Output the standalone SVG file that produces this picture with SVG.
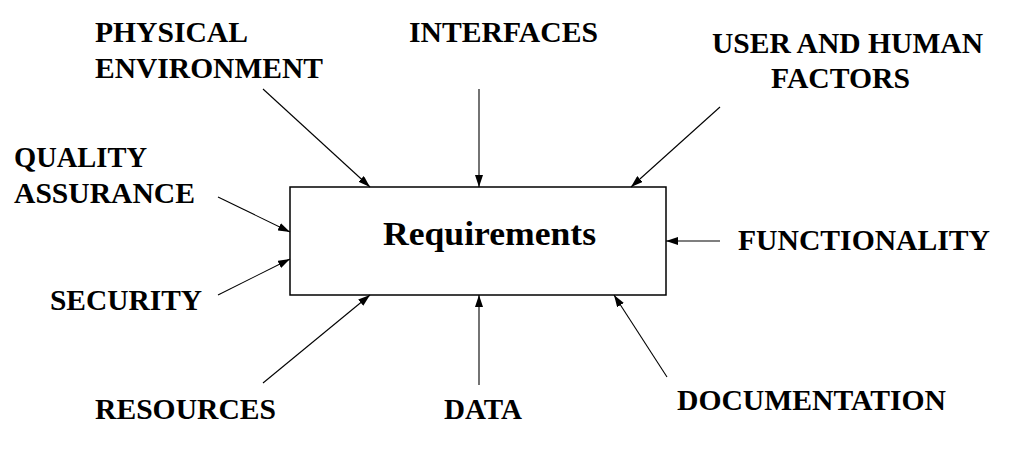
<svg xmlns="http://www.w3.org/2000/svg" width="1015" height="449" viewBox="0 0 1015 449">
<style>
.lbl{font-weight:700;font-size:29px;fill:#000}
.title{font-weight:700;font-size:34px;fill:#000}
.box{fill:#fff;stroke:#000;stroke-width:1.5}
.conn{stroke:#000;stroke-width:1.1;fill:none;marker-end:url(#ah)}
</style>
<defs>
<marker id="ah" viewBox="0 0 12 8" refX="12" refY="4" markerWidth="12" markerHeight="8" markerUnits="userSpaceOnUse" orient="auto">
<path d="M0,0 L12,4 L0,8 Z" fill="#000"/>
</marker>
</defs>
<rect width="1015" height="449" fill="#fff"/>
<g font-family="Liberation Serif, DejaVu Serif, serif">
<g id="requirements">
<rect class="box" x="290" y="187" width="376" height="108"/>
<text class="title" font-family="Liberation Serif, DejaVu Serif, serif" x="383" y="245" textLength="213" lengthAdjust="spacingAndGlyphs">Requirements</text>
</g>
<g id="connectors">
<line class="conn" x1="263" y1="89" x2="370" y2="187"/>
<line class="conn" x1="479" y1="89" x2="479" y2="187"/>
<line class="conn" x1="720" y1="107" x2="631" y2="187"/>
<line class="conn" x1="218" y1="197" x2="290" y2="232"/>
<line class="conn" x1="218" y1="295" x2="290" y2="259"/>
<line class="conn" x1="720" y1="241" x2="666" y2="241"/>
<line class="conn" x1="263" y1="383" x2="370" y2="295"/>
<line class="conn" x1="479" y1="385" x2="479" y2="295"/>
<line class="conn" x1="667" y1="377" x2="614" y2="295"/>
</g>
<g id="physical-environment">
<text class="lbl" x="95" y="42" textLength="153" lengthAdjust="spacingAndGlyphs">PHYSICAL</text>
<text class="lbl" x="95" y="78" textLength="228" lengthAdjust="spacingAndGlyphs">ENVIRONMENT</text>
</g>
<g id="interfaces">
<text class="lbl" x="409" y="42" textLength="189" lengthAdjust="spacingAndGlyphs">INTERFACES</text>
</g>
<g id="user-human-factors">
<text class="lbl" x="712" y="53" textLength="271" lengthAdjust="spacingAndGlyphs">USER AND HUMAN</text>
<text class="lbl" x="771" y="88" textLength="139" lengthAdjust="spacingAndGlyphs">FACTORS</text>
</g>
<g id="quality-assurance">
<text class="lbl" x="14" y="167" textLength="133" lengthAdjust="spacingAndGlyphs">QUALITY</text>
<text class="lbl" x="14" y="203" textLength="181" lengthAdjust="spacingAndGlyphs">ASSURANCE</text>
</g>
<g id="security">
<text class="lbl" x="50" y="310" textLength="152" lengthAdjust="spacingAndGlyphs">SECURITY</text>
</g>
<g id="functionality">
<text class="lbl" x="738" y="250" textLength="252" lengthAdjust="spacingAndGlyphs">FUNCTIONALITY</text>
</g>
<g id="resources">
<text class="lbl" x="95" y="419" textLength="181" lengthAdjust="spacingAndGlyphs">RESOURCES</text>
</g>
<g id="data">
<text class="lbl" x="444" y="419" textLength="78" lengthAdjust="spacingAndGlyphs">DATA</text>
</g>
<g id="documentation">
<text class="lbl" x="677" y="410" textLength="269" lengthAdjust="spacingAndGlyphs">DOCUMENTATION</text>
</g>
</g>
</svg>
